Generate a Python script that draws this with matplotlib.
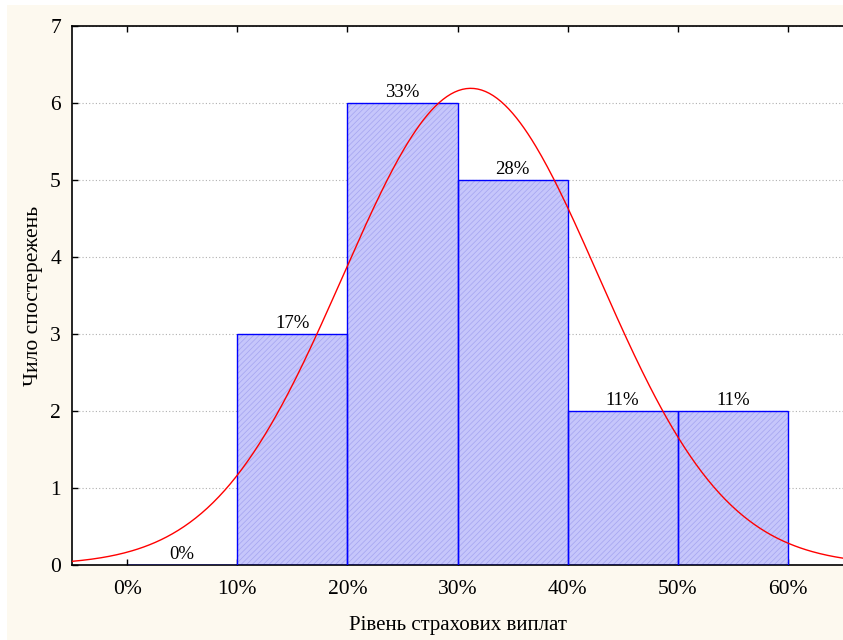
import numpy as np
import matplotlib.pyplot as plt
from matplotlib.patches import Rectangle

plt.rcParams['font.family'] = ['Liberation Serif', 'DejaVu Serif']
plt.rcParams['hatch.linewidth'] = 0.5

bin_left = [0, 10, 20, 30, 40, 50]
counts = [0, 3, 6, 5, 2, 2]
pct_labels = ['0%', '17%', '33%', '28%', '11%', '11%']
x_ticks = [0, 10, 20, 30, 40, 50, 60]
x_tick_labels = ['0%', '10%', '20%', '30%', '40%', '50%', '60%']
fit_mean = 31.2
fit_sd = 11.6
bin_width = 10

fig = plt.figure(figsize=(8.43, 6.4), dpi=100, facecolor='white')
fig.patches.append(Rectangle((7 / 843, 0), 1, 635 / 640, transform=fig.transFigure,
                             facecolor='#fdf9ef', edgecolor='none', zorder=-10))
ax = fig.add_axes([72 / 843, 75 / 640, 1 - 72 / 843, (565 - 26) / 640])
ax.set_facecolor('white')

ax.bar(bin_left, counts, width=bin_width, align='edge', color='#c6c6fb',
       edgecolor='#a4a4f0', hatch='//////', linewidth=0, zorder=2)
ax.bar(bin_left, counts, width=bin_width, align='edge', fill=False,
       edgecolor='#0000ff', linewidth=1.0, zorder=3)

for x, c, t in zip(bin_left, counts, pct_labels):
    ax.text(x + bin_width / 2, c + 0.02, t, ha='center', va='bottom', fontsize=13.5, zorder=5)

xs = np.linspace(-5, 65, 400)
n = sum(counts)
ys = n * bin_width / (fit_sd * np.sqrt(2 * np.pi)) * np.exp(-0.5 * ((xs - fit_mean) / fit_sd) ** 2)
ax.plot(xs, ys, color='red', linewidth=1.0, zorder=4)

ax.set_xlim(-5, 65)
ax.set_ylim(0, 7)
ax.set_xticks(x_ticks)
ax.set_xticklabels(x_tick_labels)
ax.set_yticks(range(8))
ax.yaxis.grid(True, linestyle=(0, (1, 2)), color='#b0b0b0', linewidth=0.8, zorder=0)
ax.set_axisbelow(True)
ax.tick_params(axis='both', direction='in', labelsize=15.5, length=4, width=1,
               top=True, pad=8)
ax.tick_params(axis='x', pad=11)
ax.spines['right'].set_visible(False)
for s in ['left', 'bottom', 'top']:
    ax.spines[s].set_linewidth(1.2)

ax.set_xlabel('Рівень страхових виплат', fontsize=15, labelpad=12)
ax.set_ylabel('Чило спостережень', fontsize=15.5, labelpad=5)

fig.savefig('out.png', dpi=100, facecolor=fig.get_facecolor())
